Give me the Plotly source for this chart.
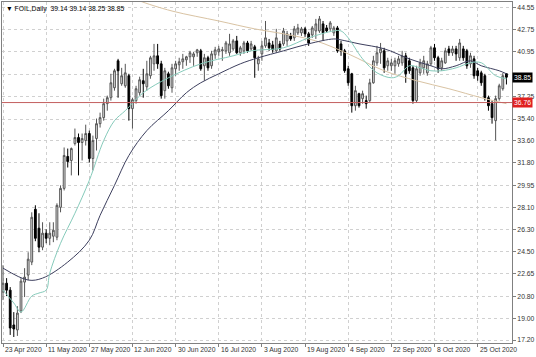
import plotly.graph_objects as go

# ---------------- data ----------------
open_ = [21.15, 21.88, 21.31, 18.44, 18.03, 19.59, 21.97, 22.55, 23.62, 27.97,
         26.41, 24.85, 26.00, 25.58, 25.75, 25.67, 28.13, 29.69, 32.32, 31.99,
         33.38, 33.88, 33.47, 33.63, 34.21, 32.15, 33.80, 35.02, 35.52, 36.67,
         37.16, 37.98, 40.20, 38.31, 38.14, 38.97, 36.26, 36.92, 37.57, 38.56,
         38.06, 38.97, 39.95, 40.61, 39.95, 37.74, 39.13, 37.98, 39.54, 39.87,
         40.12, 40.28, 40.53, 40.53, 40.86, 41.02, 39.79, 40.45, 39.79, 40.69,
         40.94, 41.02, 41.02, 40.86, 41.18, 41.84, 40.86, 41.02, 41.67, 41.18,
         41.35, 39.95, 40.77, 41.43, 41.67, 41.51, 41.02, 41.59, 41.59, 41.84,
         42.25, 42.09, 42.50, 42.50, 42.83, 42.42, 42.33, 42.66, 42.66, 43.24,
         42.91, 42.83, 42.50, 42.91, 41.59, 41.02, 39.54, 39.13, 36.50, 37.49,
         37.08, 36.92, 36.92, 38.39, 40.03, 40.86, 41.02, 39.79, 39.79, 39.79,
         39.95, 40.03, 40.61, 40.20, 39.62, 36.92, 39.21, 39.62, 39.21, 39.95,
         41.27, 40.45, 39.62, 40.03, 41.18, 40.86, 41.18, 40.45, 41.18, 41.02,
         39.95, 40.36, 39.38, 39.21, 38.97, 37.16, 36.67, 35.27, 37.08, 37.90,
         39.14]
high_ = [23.36, 22.30, 21.56, 19.50, 19.99, 22.30, 23.12, 24.43, 27.72, 28.30,
         27.64, 26.90, 26.32, 26.90, 26.90, 28.46, 29.94, 33.06, 32.97, 33.06,
         34.62, 34.21, 34.21, 34.94, 34.45, 34.04, 35.44, 35.93, 37.08, 37.33,
         39.13, 39.54, 40.36, 39.62, 39.95, 39.13, 37.16, 38.14, 38.89, 39.54,
         40.20, 40.61, 41.59, 41.59, 40.20, 39.62, 39.30, 39.95, 40.20, 40.45,
         40.77, 40.61, 41.02, 40.94, 41.18, 41.18, 40.77, 40.61, 41.02, 41.35,
         41.43, 41.35, 41.84, 42.42, 42.00, 42.25, 41.43, 41.84, 41.84, 41.84,
         41.51, 40.61, 41.84, 43.48, 42.00, 41.84, 42.83, 41.84, 42.91, 42.66,
         42.50, 43.07, 43.24, 42.99, 42.99, 42.58, 43.07, 43.65, 43.89, 43.48,
         43.15, 43.48, 43.07, 43.07, 41.84, 41.18, 39.79, 39.21, 38.14, 37.57,
         37.74, 37.33, 38.72, 40.61, 41.43, 41.67, 41.27, 40.45, 40.36, 40.45,
         40.61, 41.02, 40.86, 40.45, 39.79, 39.79, 40.36, 40.61, 40.20, 41.43,
         41.59, 40.61, 40.45, 41.27, 41.43, 41.43, 41.43, 42.00, 41.43, 41.18,
         40.86, 40.61, 39.62, 39.38, 39.13, 37.33, 36.92, 37.33, 38.31, 39.21,
         39.14]
low_ = [20.49, 20.82, 17.62, 17.45, 17.54, 19.42, 20.74, 22.13, 23.37, 25.34,
        24.43, 24.60, 25.17, 25.01, 25.26, 25.42, 27.72, 29.52, 31.41, 30.76,
        33.22, 30.76, 31.99, 33.22, 31.82, 31.17, 32.81, 34.70, 35.27, 36.09,
        36.92, 37.74, 37.16, 38.14, 37.98, 35.27, 34.62, 36.67, 37.33, 37.16,
        37.74, 38.72, 39.38, 39.54, 37.08, 37.08, 37.90, 37.57, 38.97, 39.38,
        39.54, 39.79, 40.03, 39.79, 40.53, 39.38, 38.56, 39.38, 39.54, 40.36,
        40.61, 40.20, 40.77, 40.61, 41.02, 40.77, 40.61, 40.77, 40.86, 41.02,
        38.80, 39.38, 40.20, 41.27, 41.02, 40.86, 40.86, 41.02, 41.43, 41.43,
        41.84, 41.84, 42.33, 42.25, 42.17, 41.43, 42.09, 42.00, 42.50, 41.84,
        42.50, 42.66, 42.25, 40.86, 40.61, 39.21, 38.14, 35.93, 36.09, 36.34,
        36.67, 36.26, 36.75, 38.31, 39.79, 39.95, 39.21, 39.38, 39.38, 39.13,
        39.71, 39.79, 38.39, 39.13, 36.67, 36.75, 38.97, 39.13, 38.97, 39.79,
        40.20, 39.21, 39.38, 39.95, 40.61, 40.61, 40.20, 40.20, 40.20, 39.54,
        39.62, 38.72, 38.56, 38.14, 36.92, 36.09, 35.02, 33.63, 36.92, 37.74,
        38.25]
close_ = [21.88, 21.31, 18.19, 18.11, 19.42, 22.05, 22.38, 23.86, 27.31, 25.58,
          24.85, 26.00, 25.58, 26.00, 26.24, 28.29, 29.69, 32.40, 31.90, 32.97,
          33.88, 33.47, 33.80, 34.21, 32.15, 33.63, 35.02, 35.52, 36.67, 37.16,
          38.39, 39.38, 39.38, 38.97, 39.21, 36.26, 37.00, 37.90, 38.64, 38.31,
          39.13, 40.45, 40.61, 39.95, 37.33, 39.38, 38.14, 39.62, 39.95, 40.12,
          40.36, 40.53, 40.86, 40.77, 41.10, 39.54, 40.45, 39.62, 40.77, 41.10,
          41.18, 41.10, 41.67, 41.59, 41.84, 40.86, 41.27, 41.67, 41.02, 41.59,
          40.45, 40.36, 41.43, 42.09, 41.27, 41.10, 42.09, 41.18, 42.66, 42.42,
          42.00, 42.83, 42.91, 42.83, 42.42, 41.67, 42.91, 43.24, 43.65, 42.50,
          42.66, 43.32, 42.91, 41.02, 41.02, 39.38, 38.39, 36.50, 37.74, 36.50,
          37.49, 36.67, 38.39, 40.20, 40.86, 41.18, 39.62, 40.20, 40.03, 40.20,
          40.36, 40.61, 39.13, 39.38, 36.92, 39.54, 40.03, 40.20, 39.95, 41.27,
          40.45, 39.54, 40.20, 41.02, 40.86, 41.18, 40.77, 41.67, 40.45, 39.79,
          40.61, 38.97, 38.97, 38.39, 37.16, 36.50, 35.52, 37.08, 38.14, 38.97,
          38.85]

# moving-average lines (bar index, price)
fast_ma_idx = [0, 3, 5, 8, 10, 12, 13, 16, 20, 24, 28, 31, 34, 39, 46, 55, 64, 69,
               78, 85, 92, 94, 96, 100, 104, 108, 110, 113, 116, 119, 122, 126,
               130, 133, 137, 140]
fast_ma = [21.31, 20.25, 19.51, 20.82, 21.07, 21.31, 22.71, 25.17, 27.64, 30.35,
           33.63, 35.27, 36.09, 37.57, 38.80, 39.95, 40.61, 41.02, 41.27, 42.09,
           42.66, 42.66, 42.09, 40.36, 39.21, 38.80, 38.97, 39.79, 39.62, 39.38,
           39.38, 39.62, 40.04, 40.04, 38.97, 38.72]
slow_ma_idx = [0, 7, 11, 18, 24, 27, 31, 35, 40, 46, 51, 55, 60, 66, 71, 78, 85,
               92, 94, 99, 106, 113, 119, 122, 126, 130, 133, 138, 140]
slow_ma = [23.12, 22.14, 22.30, 23.62, 25.42, 27.47, 29.94, 32.40, 34.45, 36.09,
           37.57, 38.39, 39.13, 39.95, 40.45, 41.02, 41.60, 42.00, 41.92, 41.60,
           41.19, 40.36, 39.79, 39.54, 39.79, 40.20, 39.79, 39.38, 39.13]
long_ma_idx = [36, 38, 47, 60, 70, 78, 87, 96, 106, 115, 124, 133, 140]
long_ma = [45.40, 45.13, 44.30, 43.48, 42.83, 42.42, 41.84, 40.77, 39.38, 38.56,
           37.90, 37.16, 36.67]

level_price = 36.76
last_price = 38.85

date_idx = [0, 12, 24, 36, 48, 60, 72, 84, 96, 108, 120, 132]
date_labels = ["23 Apr 2020", "11 May 2020", "27 May 2020", "12 Jun 2020",
               "30 Jun 2020", "16 Jul 2020", "3 Aug 2020", "19 Aug 2020",
               "4 Sep 2020", "22 Sep 2020", "8 Oct 2020", "25 Oct 2020"]
price_ticks = [17.20, 19.00, 20.80, 22.65, 24.50, 26.30, 28.10, 29.95, 31.80,
               33.60, 35.40, 37.25, 39.10, 40.95, 42.75, 44.55]
# the 39.10 label is hidden behind the current-price box in the reference
price_labels = ["17.20", "19.00", "20.80", "22.65", "24.50", "26.30", "28.10",
                "29.95", "31.80", "33.60", "35.40", "37.25", "", "40.95",
                "42.75", "44.55"]
title_text = "FOIL,Daily  39.14 39.14 38.25 38.85"

# ---------------- figure ----------------
FONT = "Liberation Sans"
FS = 6.8
idx = list(range(len(open_)))

fig = go.Figure()
fig.add_trace(go.Scatter(x=long_ma_idx, y=long_ma, mode="lines",
                         line=dict(color="#d9c3a3", width=1, shape="spline"),
                         hoverinfo="skip"))
fig.add_trace(go.Scatter(x=slow_ma_idx, y=slow_ma, mode="lines",
                         line=dict(color="#3d3f5e", width=1, shape="spline"),
                         hoverinfo="skip"))
fig.add_trace(go.Scatter(x=fast_ma_idx, y=fast_ma, mode="lines",
                         line=dict(color="#86cbbb", width=1, shape="spline"),
                         hoverinfo="skip"))
fig.add_trace(go.Candlestick(
    x=idx, open=open_, high=high_, low=low_, close=close_,
    increasing=dict(line=dict(color="#555555", width=1), fillcolor="#e6e6e6"),
    decreasing=dict(line=dict(color="#000000", width=1), fillcolor="#000000"),
    whiskerwidth=0,
))

fig.add_hline(y=level_price, line=dict(color="#c46060", width=1))

annotations = []
for i, lab in zip(date_idx, date_labels):
    annotations.append(dict(x=i, y=0, xref="x", yref="paper", text=lab,
                            showarrow=False, xanchor="left", yanchor="top",
                            xshift=0, yshift=-1,
                            font=dict(family=FONT, size=FS, color="#333333")))
annotations.append(dict(x=1, y=last_price, xref="paper", yref="y",
                        text="38.85", showarrow=False,
                        xanchor="left", yanchor="middle", xshift=0,
                        bgcolor="#000000", borderpad=1,
                        font=dict(family=FONT, size=FS, color="#ffffff")))
annotations.append(dict(x=1, y=level_price, xref="paper", yref="y",
                        text="36.76", showarrow=False,
                        xanchor="left", yanchor="middle", xshift=0,
                        bgcolor="#e02020", borderpad=1,
                        font=dict(family=FONT, size=FS, color="#ffffff")))
annotations.append(dict(x=0, y=1, xref="paper", yref="paper",
                        text="\u25BC " + title_text, showarrow=False,
                        xanchor="left", yanchor="top", xshift=2, yshift=-1,
                        font=dict(family=FONT, size=FS, color="#000000")))

fig.update_layout(
    width=536, height=357,
    margin=dict(l=1, r=23, t=1, b=14),
    paper_bgcolor="#ffffff", plot_bgcolor="#ffffff",
    showlegend=False,
    annotations=annotations,
    xaxis=dict(range=[-0.28, 141.55], rangeslider=dict(visible=False),
               tickvals=date_idx, ticktext=[""] * len(date_idx),
               ticks="outside", ticklen=3, tickcolor="#808080",
               showgrid=True, gridcolor="#d0d0d0", griddash="dot", gridwidth=1,
               showline=True, linecolor="#808080", linewidth=1, mirror=True,
               zeroline=False, fixedrange=True),
    yaxis=dict(range=[16.955, 45.043], side="right",
               tickvals=price_ticks, ticktext=price_labels,
               ticks="outside", ticklen=3, tickcolor="#808080",
               tickfont=dict(family=FONT, size=FS, color="#333333"),
               showgrid=True, gridcolor="#d0d0d0", griddash="dot", gridwidth=1,
               showline=True, linecolor="#808080", linewidth=1, mirror=True,
               zeroline=False, fixedrange=True),
)

fig.write_html("out.html",
               config={"displayModeBar": False, "staticPlot": True},
               post_script="document.body.style.margin='0';"
                           "document.body.style.overflow='hidden';")
